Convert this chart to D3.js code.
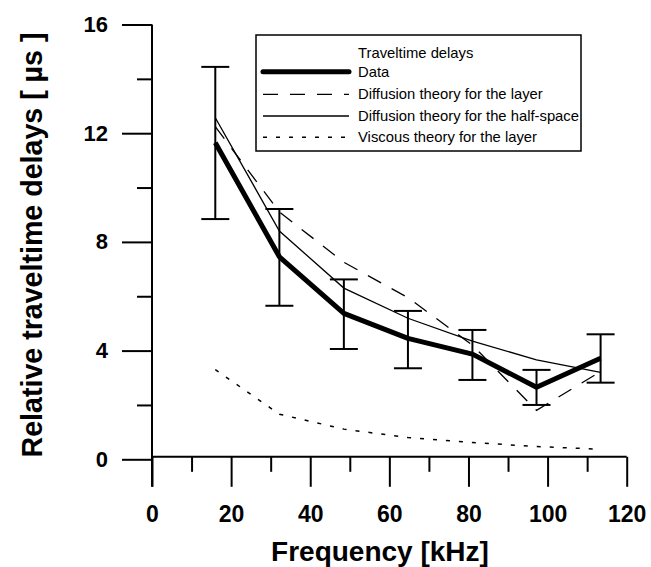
<!DOCTYPE html>
<html>
<head>
<meta charset="utf-8">
<script src="https://cdn.jsdelivr.net/npm/d3@7"></script>
<style>
  body { margin: 0; background: #fff; }
  svg { display: block; font-family: "Liberation Sans", Arial, sans-serif; }
</style>
</head>
<body>
<svg id="chart" width="651" height="567"></svg>
<script>
// ---- data ----
const freq = [16, 32.2, 48.5, 64.7, 81, 97.2, 113.4];
const dataDelay = [11.65, 7.45, 5.37, 4.45, 3.87, 2.65, 3.72];
const errTop = [14.44, 9.21, 6.62, 5.46, 4.76, 3.29, 4.6];
const errBottom = [8.84, 5.65, 4.06, 3.35, 2.92, 2.0, 2.82];
const diffLayer = [12.24, 9.1, 7.25, 5.95, 4.2, 1.8, 3.23];
const diffHalf = [12.57, 8.4, 6.3, 5.19, 4.35, 3.66, 3.2];
const viscLayer = [3.3, 1.66, 1.11, 0.8, 0.62, 0.47, 0.37];
const xMajor = [0, 20, 40, 60, 80, 100, 120];
const xMinor = [10, 30, 50, 70, 90, 110];
const yMajor = [0, 4, 8, 12, 16];
const yMinor = [2, 6, 10, 14];
const legendTitle = "Traveltime delays";
const legendLabels = ["Data", "Diffusion theory for the layer", "Diffusion theory for the half-space", "Viscous theory for the layer"];
const xTitle = "Frequency [kHz]";
const yTitle = "Relative traveltime delays  [ \u00B5s ]";

// ---- layout ----
const svg = d3.select("#chart");
const x = d3.scaleLinear().domain([0, 120]).range([152, 626.7]);
const y = d3.scaleLinear().domain([0, 16]).range([459.3, 24.5]);
const xAxisY = y(0) - 2.5;
const axisBottomEnd = xAxisY + 30;

// ---- Y axis ----
const gy = svg.append("g").attr("transform", `translate(${x(0)},0)`);
gy.call(d3.axisLeft(y).tickValues(yMajor).tickSize(30).tickPadding(14).tickFormat(d3.format("d")));
gy.append("g").call(d3.axisLeft(y).tickValues(yMinor).tickSize(15).tickFormat(""));
gy.selectAll(".domain").remove();
gy.selectAll("line").attr("stroke", "#000").attr("stroke-width", 2);
gy.selectAll("text").attr("font-size", 22).attr("font-weight", "bold").attr("fill", "#000")
  .attr("font-family", "Liberation Sans, Arial, sans-serif");
svg.append("line").attr("x1", x(0)).attr("x2", x(0)).attr("y1", y(16)).attr("y2", axisBottomEnd)
  .attr("stroke", "#000").attr("stroke-width", 2);

// ---- X axis ----
const gx = svg.append("g").attr("transform", `translate(0,${xAxisY})`);
gx.call(d3.axisBottom(x).tickValues(xMajor).tickSize(30).tickPadding(19).tickFormat(d3.format("d")));
gx.append("g").call(d3.axisBottom(x).tickValues(xMinor).tickSize(15).tickFormat(""));
gx.selectAll(".domain").remove();
gx.selectAll("line").attr("stroke", "#000").attr("stroke-width", 2);
gx.selectAll("text").attr("font-size", 23).attr("font-weight", "bold").attr("fill", "#000")
  .attr("font-family", "Liberation Sans, Arial, sans-serif");
svg.append("line").attr("x1", x(0)).attr("x2", x(120)).attr("y1", xAxisY).attr("y2", xAxisY)
  .attr("stroke", "#000").attr("stroke-width", 2);

// ---- axis titles ----
svg.append("text").attr("x", 380).attr("y", 561).attr("text-anchor", "middle")
  .attr("font-size", 28).attr("font-weight", "bold").text(xTitle);
svg.append("text").attr("transform", "translate(42,245) rotate(-90)").attr("text-anchor", "middle")
  .attr("font-size", 28.6).attr("font-weight", "bold").text(yTitle);

// ---- lines ----
const idx = d3.range(freq.length);
const lineOf = arr => d3.line().x(i => x(freq[i])).y(i => y(arr[i]))(idx);

svg.append("path").attr("d", lineOf(viscLayer)).attr("fill", "none")
  .attr("stroke", "#000").attr("stroke-width", 1.5).attr("stroke-dasharray", "4,9");
svg.append("path").attr("d", lineOf(diffLayer)).attr("fill", "none")
  .attr("stroke", "#000").attr("stroke-width", 1.3).attr("stroke-dasharray", "15,12");
svg.append("path").attr("d", lineOf(diffHalf)).attr("fill", "none")
  .attr("stroke", "#000").attr("stroke-width", 1.3);

// ---- error bars ----
const cap = 14;
const eb = svg.append("g").attr("stroke", "#000").attr("stroke-width", 2);
idx.forEach(i => {
  eb.append("line").attr("x1", x(freq[i])).attr("x2", x(freq[i])).attr("y1", y(errTop[i])).attr("y2", y(errBottom[i]));
  eb.append("line").attr("x1", x(freq[i]) - cap).attr("x2", x(freq[i]) + cap).attr("y1", y(errTop[i])).attr("y2", y(errTop[i]));
  eb.append("line").attr("x1", x(freq[i]) - cap).attr("x2", x(freq[i]) + cap).attr("y1", y(errBottom[i])).attr("y2", y(errBottom[i]));
});

svg.append("path").attr("d", lineOf(dataDelay)).attr("fill", "none")
  .attr("stroke", "#000").attr("stroke-width", 5).attr("stroke-linejoin", "round");

// ---- legend ----
const lg = svg.append("g");
lg.append("rect").attr("x", 256).attr("y", 35).attr("width", 325).attr("height", 116)
  .attr("fill", "#fff").attr("stroke", "#000").attr("stroke-width", 1.5);
lg.append("text").attr("x", 358).attr("y", 53.3).attr("dy", "0.35em").attr("font-size", 14.8).text(legendTitle);
const rowY = [71.7, 94.3, 116, 137.3];
const styles = [
  {w: 5, dash: null, cap: "round"},
  {w: 1.3, dash: "15,12", cap: "butt"},
  {w: 1.3, dash: null, cap: "butt"},
  {w: 1.5, dash: "4,9", cap: "butt"}
];
legendLabels.forEach((lab, i) => {
  lg.append("line").attr("x1", 263).attr("x2", 349).attr("y1", rowY[i]).attr("y2", rowY[i])
    .attr("stroke", "#000").attr("stroke-width", styles[i].w)
    .attr("stroke-dasharray", styles[i].dash).attr("stroke-linecap", styles[i].cap);
  lg.append("text").attr("x", 358).attr("y", rowY[i]).attr("dy", "0.35em").attr("font-size", 14.8).text(lab);
});
</script>
</body>
</html>
